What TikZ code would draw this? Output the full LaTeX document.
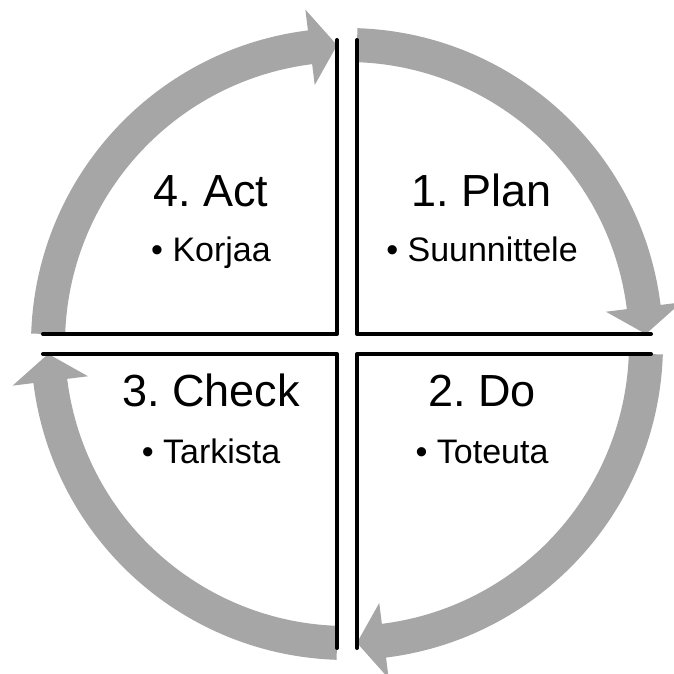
\documentclass[tikz,border=0pt]{standalone}
\usepackage{fontspec}
\setmainfont{Liberation Sans}
\usetikzlibrary{positioning}
\definecolor{cyclegray}{RGB}{166,166,166}
\frenchspacing

\begin{document}
\begin{tikzpicture}[
  x=1pt, y=1pt,
  quadrant/.style={rectangle, minimum size=294pt, inner sep=0pt, outer sep=0pt},
  border/.style={line width=4pt, line join=round, line cap=round},
  title/.style={anchor=base, inner sep=0pt, font=\fontsize{45}{54}\selectfont},
  item/.style={anchor=base, inner sep=0pt, font=\fontsize{34}{40}\selectfont},
  turn/.style={fill=cyclegray}
]
\useasboundingbox (-347,-330) rectangle (327,344);

% cycle arrows, one per quarter
\foreach \rot in {0,-90,-180,-270}
  \fill[turn, rotate=\rot] (178.1:316) arc[start angle=178.1, end angle=97.1, radius=316]
    -- (97.1:337) -- (91.9:299) -- (97.1:261) -- (97.1:282)
    arc[start angle=97.1, end angle=178.1, radius=282] -- cycle;

\node[quadrant] (act) at (-157,157) {};
\node[quadrant] (plan) at (157,157) {};
\node[quadrant] (check) at (-157,-157) {};
\node[quadrant] (do) at (157,-157) {};

\draw[border] (act.north east) |- (act.south west);
\draw[border] (plan.north west) |- (plan.south east);
\draw[border] (check.north west) -| (check.south east);
\draw[border] (do.north east) -| (do.south west);

\node[title] (plantitle) at (135,137) {1. Plan};
\node[item] (planitem) at (135,82) {• Suunnittele};
\node[title] (dotitle) at (135,-63) {2. Do};
\node[item] (doitem) at (135,-119) {• Toteuta};
\node[title] (checktitle) at (-136,-63) {3. Check};
\node[item] (checkitem) at (-136,-119) {• Tarkista};
\node[title] (acttitle) at (-136,137) {4. Act};
\node[item] (actitem) at (-136,82) {• Korjaa};

\end{tikzpicture}
\end{document}
